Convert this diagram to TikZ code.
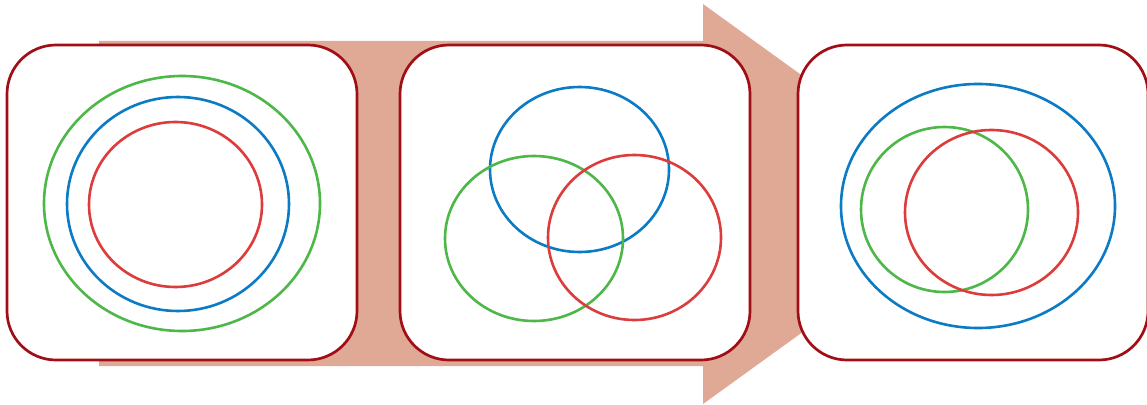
\documentclass[tikz,border=0pt]{standalone}
\definecolor{arrowfill}{HTML}{E0A996}
\definecolor{boxline}{HTML}{A00E16}
\definecolor{cgreen}{HTML}{4DB848}
\definecolor{cblue}{HTML}{0A7BC4}
\definecolor{cred}{HTML}{DC3C3C}
\tikzset{
  panel/.style={draw=boxline, line width=2.7pt, fill=white, rounded corners=49pt},
  ring/.style={line width=2.6pt},
}
\begin{document}
\begin{tikzpicture}[x=1pt,y=-1pt]
\useasboundingbox (0,0) rectangle (1147,404);
% big arrow
\fill[arrowfill] (99,41) -- (703,41) -- (703,4) -- (980,204) -- (703,404) -- (703,366) -- (99,366) -- cycle;
% panels
\draw[panel] (7,45) rectangle (357,360);
\draw[panel] (400,45) rectangle (750,360);
\begin{scope}
\clip (0,0) rectangle (1147,404);
\draw[panel] (798,45) rectangle (1148,360);
\end{scope}
% panel 1
\draw[ring, cgreen] (182,203.5) ellipse [x radius=138, y radius=127.5];
\draw[ring, cblue] (178,204) ellipse [x radius=111, y radius=107];
\draw[ring, cred] (175.5,204.5) ellipse [x radius=86.5, y radius=82.5];
% panel 2
\draw[ring, cblue] (579.5,169.5) ellipse [x radius=89.5, y radius=82.5];
\draw[ring, cgreen] (534,238.5) ellipse [x radius=89, y radius=82.5];
\draw[ring, cred] (634.5,237.5) ellipse [x radius=86.5, y radius=82.5];
% panel 3
\draw[ring, cblue] (978,206) ellipse [x radius=137, y radius=122];
\draw[ring, cgreen] (944.5,209.5) ellipse [x radius=83.5, y radius=82.5];
\draw[ring, cred] (991.5,212.5) ellipse [x radius=86.5, y radius=82.5];
\end{tikzpicture}
\end{document}
